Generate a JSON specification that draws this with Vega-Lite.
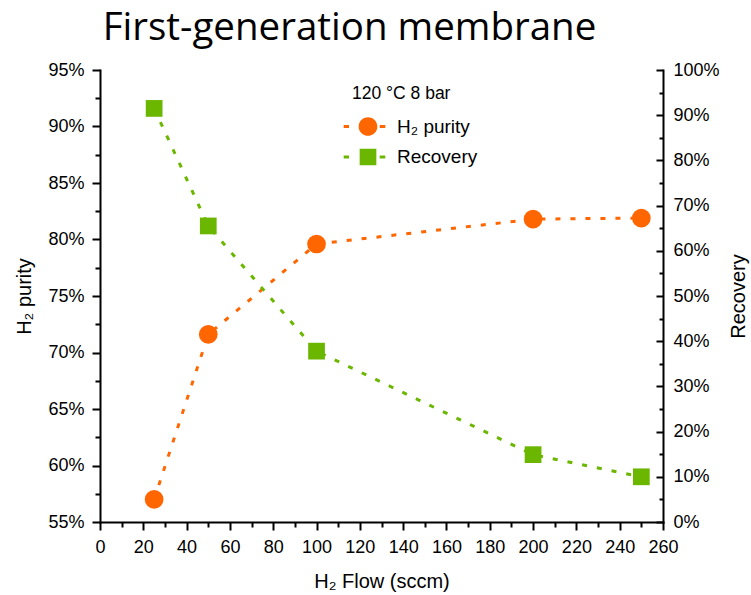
{
  "$schema": "https://vega.github.io/schema/vega-lite/v6.json",
  "width": 563,
  "height": 452,
  "autosize": {"type": "none"},
  "padding": {"left": 100, "top": 70, "right": 88, "bottom": 73},
  "background": "white",
  "title": {"text": "First-generation membrane", "font": "Open Sans", "fontSize": 38.5, "fontWeight": "normal", "color": "black", "anchor": "middle", "dx": -32, "offset": 13},
  "data": {"values": [
    {"flow": 25, "purity": 0.570, "recovery": 0.915},
    {"flow": 50, "purity": 0.716, "recovery": 0.655},
    {"flow": 100, "purity": 0.796, "recovery": 0.378},
    {"flow": 200, "purity": 0.818, "recovery": 0.149},
    {"flow": 250, "purity": 0.819, "recovery": 0.100}
  ]},
  "config": {
    "view": {"stroke": null},
    "axis": {"labelFont": "Liberation Sans", "titleFont": "Liberation Sans", "labelFontSize": 18, "titleFontSize": 20, "titleFontWeight": "normal", "labelColor": "black", "titleColor": "black", "domainColor": "black", "tickColor": "black", "domainWidth": 2, "tickWidth": 2, "tickSize": 8, "grid": false, "labelPadding": 8, "domainCap": "square", "labelFlush": false, "labelOverlap": false},
    "legend": {"labelFont": "Liberation Sans", "titleFont": "Liberation Sans"}
  },
  "layer": [
    {
      "mark": {"type": "line", "interpolate": "linear", "strokeDash": [5, 10], "strokeWidth": 3, "color": "#FF6600"},
      "encoding": {
        "x": {"field": "flow", "type": "quantitative", "scale": {"domain": [0, 260], "nice": false}, "axis": {"orient": "bottom", "title": "H₂ Flow (sccm)", "values": [0,20,40,60,80,100,120,140,160,180,200,220,240,260], "titlePadding": 15}},
        "y": {"field": "purity", "type": "quantitative", "scale": {"domain": [0.55, 0.95], "nice": false}, "axis": {"orient": "left", "title": "H₂ purity", "format": ".0%", "values": [0.55,0.6,0.65,0.7,0.75,0.8,0.85,0.9,0.95], "titlePadding": 13}}
      }
    },
    {
      "mark": {"type": "point", "filled": true, "opacity": 1, "size": 350, "shape": "circle", "color": "#FF6600"},
      "encoding": {
        "x": {"field": "flow", "type": "quantitative", "axis": {"orient": "bottom", "title": null, "labels": false, "domain": false, "tickSize": 5, "values": [10,30,50,70,90,110,130,150,170,190,210,230,250]}},
        "y": {"field": "purity", "type": "quantitative", "scale": {"domain": [0.55, 0.95], "nice": false}, "axis": {"orient": "left", "title": null, "labels": false, "domain": false, "tickSize": 5, "values": [0.575,0.625,0.675,0.725,0.775,0.825,0.875,0.925]}}
      }
    },
    {
      "mark": {"type": "line", "interpolate": "linear", "strokeDash": [5, 10], "strokeWidth": 3, "color": "#6BB700"},
      "encoding": {
        "x": {"field": "flow", "type": "quantitative", "axis": null},
        "y": {"field": "recovery", "type": "quantitative", "scale": {"domain": [0, 1], "nice": false}, "axis": {"orient": "right", "title": "Recovery", "titleAngle": 270, "titleBaseline": "top", "format": ".0%", "values": [0,0.1,0.2,0.3,0.4,0.5,0.6,0.7,0.8,0.9,1], "tickSize": -7, "labelPadding": 17, "titlePadding": 9}}
      }
    },
    {
      "mark": {"type": "point", "filled": true, "opacity": 1, "size": 280, "shape": "square", "color": "#6BB700"},
      "encoding": {
        "x": {"field": "flow", "type": "quantitative", "axis": null},
        "y": {"field": "recovery", "type": "quantitative", "scale": {"domain": [0, 1], "nice": false}, "axis": {"orient": "right", "title": null, "labels": false, "domain": false, "tickSize": -4, "values": [0.05,0.15,0.25,0.35,0.45,0.55,0.65,0.75,0.85,0.95]}}
      }
    },
    {
      "data": {"values": [{"series": "H₂ purity"}, {"series": "Recovery"}]},
      "mark": {"type": "point", "filled": true, "opacity": 1, "size": 0},
      "encoding": {
        "color": {"field": "series", "type": "nominal", "scale": {"domain": ["H₂ purity", "Recovery"], "range": ["#FF6600", "#6BB700"]}, "legend": {"title": "120 °C 8 bar", "orient": "none", "legendX": 252, "legendY": 14.5, "padding": 0, "titleFontSize": 17.5, "titleFontWeight": "normal", "titleColor": "black", "labelFontSize": 19, "labelColor": "black", "symbolSize": 400, "symbolOpacity": 1, "symbolStrokeWidth": 0, "symbolOffset": 6, "rowPadding": 10.5, "titlePadding": 14.5, "labelOffset": 19}},
        "shape": {"field": "series", "type": "nominal", "scale": {"domain": ["H₂ purity", "Recovery"], "range": ["M0.935,0A0.935,0.935 0 1,1 -0.935,0A0.935,0.935 0 1,1 0.935,0Z M-2.43,-0.15H-1.9V0.15H-2.43Z M1.17,-0.15H1.73V0.15H1.17Z", "M-0.835,-0.835H0.835V0.835H-0.835Z M-2.43,-0.15H-1.9V0.15H-2.43Z M1.17,-0.15H1.73V0.15H1.17Z"]}}
      }
    }
  ],
  "resolve": {"scale": {"y": "independent"}, "axis": {"x": "independent", "y": "independent"}}
}
